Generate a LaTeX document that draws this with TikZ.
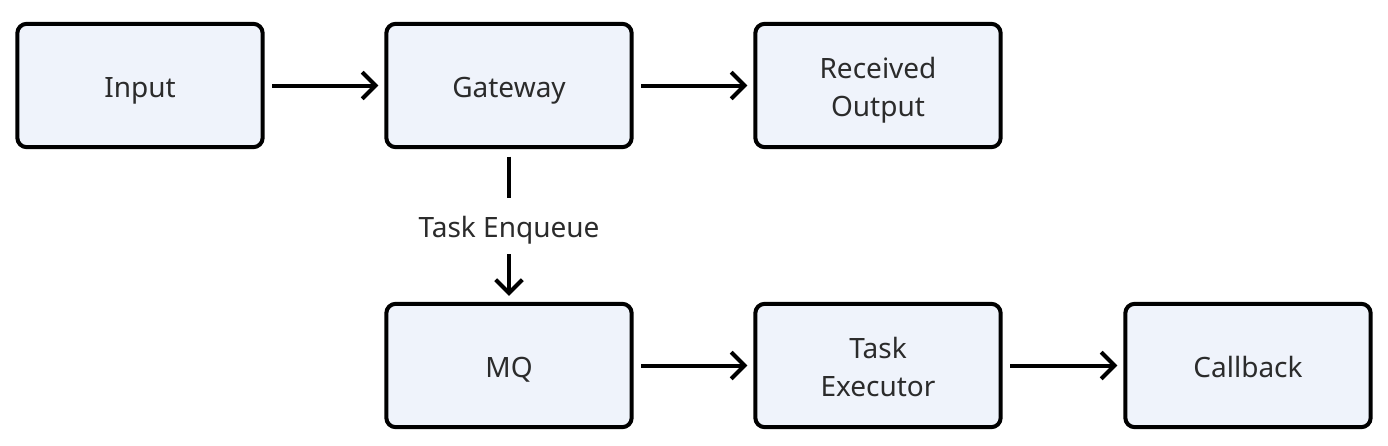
\documentclass[tikz,border=0pt]{standalone}
\usepackage{fontspec}
\setmainfont{Noto Sans}
\usetikzlibrary{arrows.meta}
\definecolor{boxfill}{RGB}{239,243,251}
\definecolor{txtgray}{RGB}{43,43,43}
\tikzset{
    flowbox/.style={draw=black,line width=3pt,fill=boxfill,rounded corners=7pt,
        minimum width=184pt,minimum height=92.5pt,align=center,text=txtgray,
        font=\fontsize{21}{29}\selectfont,text height=18pt,text depth=0pt},
    twoline/.style={text height=47pt,text depth=0pt},
    flowarrow/.style={line width=3pt,-{Straight Barb[length=10pt,width=20pt,line width=3pt]},
        shorten <=5.5pt,shorten >=4.5pt},
}
\begin{document}
\begin{tikzpicture}[x=0.75pt,y=0.75pt,yscale=-1,xscale=1]
    \useasboundingbox (0,0) rectangle (1388,446);

    % top row
    \node [flowbox] (input) at (140,85.5) {Input};
    \node [flowbox] (gateway) at (509,85.5) {Gateway};
    \node [flowbox,twoline] (received) at (878,85.5) {Received\\Output};
    % bottom row
    \node [flowbox] (mq) at (509,365.5) {MQ};
    \node [flowbox,twoline] (executor) at (878,365.5) {Task\\Executor};
    \node [flowbox] (callback) at (1248,365.5) {Callback};

    \draw [flowarrow] (input) -- (gateway);
    \draw [flowarrow] (gateway) -- (received);
    \draw [flowarrow] (gateway) -- node [fill=white,text=txtgray,inner xsep=8pt,inner ysep=12pt,
        font=\fontsize{21}{29}\selectfont,text height=18pt,text depth=0pt] (enqueue) {Task Enqueue} (mq);
    \draw [flowarrow] (mq) -- (executor);
    \draw [flowarrow] (executor) -- (callback);

\end{tikzpicture}
\end{document}
